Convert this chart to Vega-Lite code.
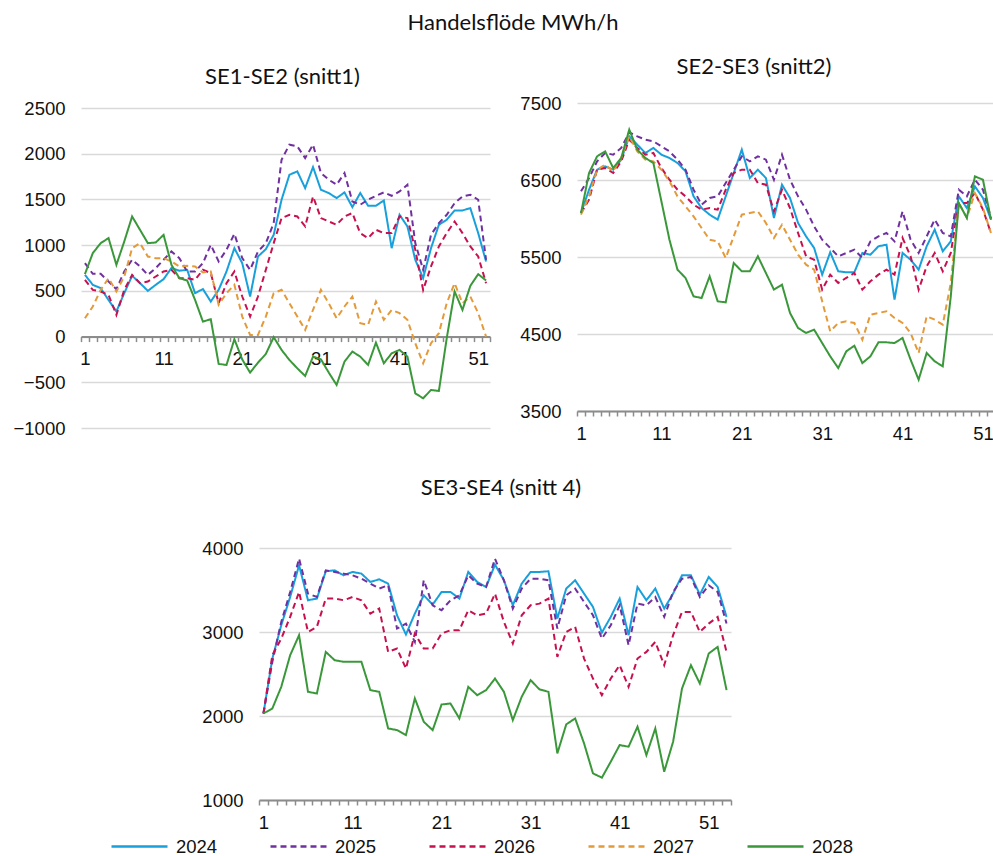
{
"$schema": "https://vega.github.io/schema/vega-lite/v6.json",
"background": "white",
"padding": {"left": 13, "top": 12, "right": 0, "bottom": 0},
"title": {"text": "Handelsflöde MWh/h", "font": "Lato", "fontSize": 22, "fontWeight": "normal", "color": "#111", "anchor": "middle", "offset": 21, "dx": 7},
"config": {
  "view": {"stroke": null},
  "title": {"font": "Lato", "fontSize": 22, "fontWeight": "normal", "color": "#111"},
  "axis": {"labelFont": "Liberation Sans", "labelFontSize": 18.5, "labelColor": "#111", "title": null, "labelFlush": false, "labelOverlap": false},
  "axisY": {"domain": false, "ticks": false, "grid": true, "gridColor": "#D9D9D9", "gridWidth": 1.5, "labelPadding": 16, "format": "d"},
  "axisX": {"grid": false, "domainColor": "#8C8C8C", "domainWidth": 2, "tickColor": "#8C8C8C", "tickWidth": 1.5, "tickSize": 5, "labelPadding": 8,
            "labelExpr": "indexof([1,11,21,31,41,51], datum.value + 0.5) >= 0 ? format(datum.value + 0.5, 'd') : ''"},
  "legend": {"orient": "none", "legendX": 29, "legendY": 714, "direction": "horizontal", "columns": 5, "title": null, "symbolType": "stroke", "symbolSize": 3136, "symbolStrokeWidth": 2.5, "labelFont": "Liberation Sans", "labelFontSize": 18.5, "labelColor": "#111", "labelOffset": 7, "columnPadding": 47}
},
"datasets": {
"p1": [
{"w":1,"s":"2024","v":675},{"w":2,"s":"2024","v":566},{"w":3,"s":"2024","v":530},{"w":4,"s":"2024","v":400},{"w":5,"s":"2024","v":275},{"w":6,"s":"2024","v":475},{"w":7,"s":"2024","v":665},{"w":8,"s":"2024","v":585},{"w":9,"s":"2024","v":500},{"w":10,"s":"2024","v":566},
{"w":11,"s":"2024","v":628},{"w":12,"s":"2024","v":750},{"w":13,"s":"2024","v":720},{"w":14,"s":"2024","v":730},{"w":15,"s":"2024","v":475},{"w":16,"s":"2024","v":520},{"w":17,"s":"2024","v":383},{"w":18,"s":"2024","v":511},{"w":19,"s":"2024","v":712},{"w":20,"s":"2024","v":967},
{"w":21,"s":"2024","v":803},{"w":22,"s":"2024","v":438},{"w":23,"s":"2024","v":876},{"w":24,"s":"2024","v":956},{"w":25,"s":"2024","v":1113},{"w":26,"s":"2024","v":1497},{"w":27,"s":"2024","v":1770},{"w":28,"s":"2024","v":1807},{"w":29,"s":"2024","v":1624},{"w":30,"s":"2024","v":1854},
{"w":31,"s":"2024","v":1606},{"w":32,"s":"2024","v":1570},{"w":33,"s":"2024","v":1515},{"w":34,"s":"2024","v":1577},{"w":35,"s":"2024","v":1416},{"w":36,"s":"2024","v":1570},{"w":37,"s":"2024","v":1431},{"w":38,"s":"2024","v":1431},{"w":39,"s":"2024","v":1489},{"w":40,"s":"2024","v":967},
{"w":41,"s":"2024","v":1332},{"w":42,"s":"2024","v":1205},{"w":43,"s":"2024","v":840},{"w":44,"s":"2024","v":639},{"w":45,"s":"2024","v":967},{"w":46,"s":"2024","v":1223},{"w":47,"s":"2024","v":1278},{"w":48,"s":"2024","v":1380},{"w":49,"s":"2024","v":1380},{"w":50,"s":"2024","v":1405},
{"w":51,"s":"2024","v":1132},{"w":52,"s":"2024","v":821},
{"w":1,"s":"2025","v":803},{"w":2,"s":"2025","v":686},{"w":3,"s":"2025","v":686},{"w":4,"s":"2025","v":602},{"w":5,"s":"2025","v":518},{"w":6,"s":"2025","v":712},{"w":7,"s":"2025","v":840},{"w":8,"s":"2025","v":767},{"w":9,"s":"2025","v":675},{"w":10,"s":"2025","v":748},
{"w":11,"s":"2025","v":840},{"w":12,"s":"2025","v":931},{"w":13,"s":"2025","v":858},{"w":14,"s":"2025","v":712},{"w":15,"s":"2025","v":712},{"w":16,"s":"2025","v":803},{"w":17,"s":"2025","v":1004},{"w":18,"s":"2025","v":821},{"w":19,"s":"2025","v":949},{"w":20,"s":"2025","v":1124},
{"w":21,"s":"2025","v":858},{"w":22,"s":"2025","v":730},{"w":23,"s":"2025","v":931},{"w":24,"s":"2025","v":1022},{"w":25,"s":"2025","v":1241},{"w":26,"s":"2025","v":1935},{"w":27,"s":"2025","v":2099},{"w":28,"s":"2025","v":2081},{"w":29,"s":"2025","v":1953},{"w":30,"s":"2025","v":2099},
{"w":31,"s":"2025","v":1789},{"w":32,"s":"2025","v":1716},{"w":33,"s":"2025","v":1661},{"w":34,"s":"2025","v":1789},{"w":35,"s":"2025","v":1478},{"w":36,"s":"2025","v":1442},{"w":37,"s":"2025","v":1497},{"w":38,"s":"2025","v":1540},{"w":39,"s":"2025","v":1577},{"w":40,"s":"2025","v":1540},
{"w":41,"s":"2025","v":1588},{"w":42,"s":"2025","v":1661},{"w":43,"s":"2025","v":1022},{"w":44,"s":"2025","v":730},{"w":45,"s":"2025","v":1113},{"w":46,"s":"2025","v":1241},{"w":47,"s":"2025","v":1332},{"w":48,"s":"2025","v":1460},{"w":49,"s":"2025","v":1533},{"w":50,"s":"2025","v":1551},
{"w":51,"s":"2025","v":1497},{"w":52,"s":"2025","v":840},
{"w":1,"s":"2026","v":620},{"w":2,"s":"2026","v":511},{"w":3,"s":"2026","v":493},{"w":4,"s":"2026","v":456},{"w":5,"s":"2026","v":237},{"w":6,"s":"2026","v":511},{"w":7,"s":"2026","v":675},{"w":8,"s":"2026","v":584},{"w":9,"s":"2026","v":602},{"w":10,"s":"2026","v":657},
{"w":11,"s":"2026","v":712},{"w":12,"s":"2026","v":730},{"w":13,"s":"2026","v":639},{"w":14,"s":"2026","v":639},{"w":15,"s":"2026","v":620},{"w":16,"s":"2026","v":730},{"w":17,"s":"2026","v":694},{"w":18,"s":"2026","v":365},{"w":19,"s":"2026","v":584},{"w":20,"s":"2026","v":712},
{"w":21,"s":"2026","v":438},{"w":22,"s":"2026","v":219},{"w":23,"s":"2026","v":438},{"w":24,"s":"2026","v":730},{"w":25,"s":"2026","v":1022},{"w":26,"s":"2026","v":1296},{"w":27,"s":"2026","v":1332},{"w":28,"s":"2026","v":1314},{"w":29,"s":"2026","v":1205},{"w":30,"s":"2026","v":1533},
{"w":31,"s":"2026","v":1296},{"w":32,"s":"2026","v":1259},{"w":33,"s":"2026","v":1223},{"w":34,"s":"2026","v":1314},{"w":35,"s":"2026","v":1351},{"w":36,"s":"2026","v":1132},{"w":37,"s":"2026","v":1077},{"w":38,"s":"2026","v":1168},{"w":39,"s":"2026","v":1132},{"w":40,"s":"2026","v":1132},
{"w":41,"s":"2026","v":1314},{"w":42,"s":"2026","v":1296},{"w":43,"s":"2026","v":949},{"w":44,"s":"2026","v":511},{"w":45,"s":"2026","v":767},{"w":46,"s":"2026","v":986},{"w":47,"s":"2026","v":1132},{"w":48,"s":"2026","v":1259},{"w":49,"s":"2026","v":1132},{"w":50,"s":"2026","v":986},
{"w":51,"s":"2026","v":876},{"w":52,"s":"2026","v":584},
{"w":1,"s":"2027","v":200},{"w":2,"s":"2027","v":329},{"w":3,"s":"2027","v":511},{"w":4,"s":"2027","v":639},{"w":5,"s":"2027","v":493},{"w":6,"s":"2027","v":657},{"w":7,"s":"2027","v":967},{"w":8,"s":"2027","v":1022},{"w":9,"s":"2027","v":876},{"w":10,"s":"2027","v":858},
{"w":11,"s":"2027","v":858},{"w":12,"s":"2027","v":821},{"w":13,"s":"2027","v":767},{"w":14,"s":"2027","v":774},{"w":15,"s":"2027","v":767},{"w":16,"s":"2027","v":701},{"w":17,"s":"2027","v":712},{"w":18,"s":"2027","v":347},{"w":19,"s":"2027","v":475},{"w":20,"s":"2027","v":566},
{"w":21,"s":"2027","v":219},{"w":22,"s":"2027","v":18},{"w":23,"s":"2027","v":18},{"w":24,"s":"2027","v":219},{"w":25,"s":"2027","v":475},{"w":26,"s":"2027","v":511},{"w":27,"s":"2027","v":365},{"w":28,"s":"2027","v":219},{"w":29,"s":"2027","v":73},{"w":30,"s":"2027","v":292},
{"w":31,"s":"2027","v":511},{"w":32,"s":"2027","v":365},{"w":33,"s":"2027","v":200},{"w":34,"s":"2027","v":329},{"w":35,"s":"2027","v":438},{"w":36,"s":"2027","v":146},{"w":37,"s":"2027","v":128},{"w":38,"s":"2027","v":383},{"w":39,"s":"2027","v":183},{"w":40,"s":"2027","v":292},
{"w":41,"s":"2027","v":256},{"w":42,"s":"2027","v":183},{"w":43,"s":"2027","v":-73},{"w":44,"s":"2027","v":-292},{"w":45,"s":"2027","v":-73},{"w":46,"s":"2027","v":37},{"w":47,"s":"2027","v":365},{"w":48,"s":"2027","v":584},{"w":49,"s":"2027","v":365},{"w":50,"s":"2027","v":438},
{"w":51,"s":"2027","v":256},{"w":52,"s":"2027","v":0},
{"w":1,"s":"2028","v":683},{"w":2,"s":"2028","v":913},{"w":3,"s":"2028","v":1022},{"w":4,"s":"2028","v":1077},{"w":5,"s":"2028","v":785},{"w":6,"s":"2028","v":1040},{"w":7,"s":"2028","v":1314},{"w":8,"s":"2028","v":1168},{"w":9,"s":"2028","v":1022},{"w":10,"s":"2028","v":1029},
{"w":11,"s":"2028","v":1113},{"w":12,"s":"2028","v":785},{"w":13,"s":"2028","v":639},{"w":14,"s":"2028","v":613},{"w":15,"s":"2028","v":402},{"w":16,"s":"2028","v":164},{"w":17,"s":"2028","v":190},{"w":18,"s":"2028","v":-299},{"w":19,"s":"2028","v":-310},{"w":20,"s":"2028","v":-29},
{"w":21,"s":"2028","v":-250},{"w":22,"s":"2028","v":-394},{"w":23,"s":"2028","v":-285},{"w":24,"s":"2028","v":-190},{"w":25,"s":"2028","v":-7},{"w":26,"s":"2028","v":-146},{"w":27,"s":"2028","v":-256},{"w":28,"s":"2028","v":-347},{"w":29,"s":"2028","v":-431},{"w":30,"s":"2028","v":-219},
{"w":31,"s":"2028","v":-248},{"w":32,"s":"2028","v":-394},{"w":33,"s":"2028","v":-529},{"w":34,"s":"2028","v":-274},{"w":35,"s":"2028","v":-164},{"w":36,"s":"2028","v":-219},{"w":37,"s":"2028","v":-310},{"w":38,"s":"2028","v":-66},{"w":39,"s":"2028","v":-292},{"w":40,"s":"2028","v":-183},
{"w":41,"s":"2028","v":-146},{"w":42,"s":"2028","v":-219},{"w":43,"s":"2028","v":-621},{"w":44,"s":"2028","v":-675},{"w":45,"s":"2028","v":-584},{"w":46,"s":"2028","v":-595},{"w":47,"s":"2028","v":-18},{"w":48,"s":"2028","v":493},{"w":49,"s":"2028","v":292},{"w":50,"s":"2028","v":555},
{"w":51,"s":"2028","v":683},{"w":52,"s":"2028","v":613}
],
"p2": [
{"w":1,"s":"2024","v":6071},{"w":2,"s":"2024","v":6374},{"w":3,"s":"2024","v":6634},{"w":4,"s":"2024","v":6677},{"w":5,"s":"2024","v":6634},{"w":6,"s":"2024","v":6764},{"w":7,"s":"2024","v":7067},{"w":8,"s":"2024","v":6959},{"w":9,"s":"2024","v":6851},{"w":10,"s":"2024","v":6916},
{"w":11,"s":"2024","v":6829},{"w":12,"s":"2024","v":6786},{"w":13,"s":"2024","v":6721},{"w":14,"s":"2024","v":6613},{"w":15,"s":"2024","v":6288},{"w":16,"s":"2024","v":6136},{"w":17,"s":"2024","v":6050},{"w":18,"s":"2024","v":5985},{"w":19,"s":"2024","v":6288},{"w":20,"s":"2024","v":6591},
{"w":21,"s":"2024","v":6894},{"w":22,"s":"2024","v":6526},{"w":23,"s":"2024","v":6634},{"w":24,"s":"2024","v":6526},{"w":25,"s":"2024","v":6006},{"w":26,"s":"2024","v":6439},{"w":27,"s":"2024","v":6266},{"w":28,"s":"2024","v":5942},{"w":29,"s":"2024","v":5768},{"w":30,"s":"2024","v":5617},
{"w":31,"s":"2024","v":5271},{"w":32,"s":"2024","v":5561},{"w":33,"s":"2024","v":5314},{"w":34,"s":"2024","v":5301},{"w":35,"s":"2024","v":5301},{"w":36,"s":"2024","v":5552},{"w":37,"s":"2024","v":5530},{"w":38,"s":"2024","v":5639},{"w":39,"s":"2024","v":5660},{"w":40,"s":"2024","v":4946},
{"w":41,"s":"2024","v":5552},{"w":42,"s":"2024","v":5465},{"w":43,"s":"2024","v":5336},{"w":44,"s":"2024","v":5639},{"w":45,"s":"2024","v":5855},{"w":46,"s":"2024","v":5574},{"w":47,"s":"2024","v":5703},{"w":48,"s":"2024","v":6288},{"w":49,"s":"2024","v":6136},{"w":50,"s":"2024","v":6418},
{"w":51,"s":"2024","v":6266},{"w":52,"s":"2024","v":5985},
{"w":1,"s":"2025","v":6353},{"w":2,"s":"2025","v":6526},{"w":3,"s":"2025","v":6742},{"w":4,"s":"2025","v":6851},{"w":5,"s":"2025","v":6829},{"w":6,"s":"2025","v":6916},{"w":7,"s":"2025","v":7119},{"w":8,"s":"2025","v":7067},{"w":9,"s":"2025","v":7024},{"w":10,"s":"2025","v":7002},
{"w":11,"s":"2025","v":6937},{"w":12,"s":"2025","v":6872},{"w":13,"s":"2025","v":6764},{"w":14,"s":"2025","v":6634},{"w":15,"s":"2025","v":6374},{"w":16,"s":"2025","v":6180},{"w":17,"s":"2025","v":6266},{"w":18,"s":"2025","v":6288},{"w":19,"s":"2025","v":6461},{"w":20,"s":"2025","v":6634},
{"w":21,"s":"2025","v":6807},{"w":22,"s":"2025","v":6742},{"w":23,"s":"2025","v":6807},{"w":24,"s":"2025","v":6764},{"w":25,"s":"2025","v":6504},{"w":26,"s":"2025","v":6829},{"w":27,"s":"2025","v":6504},{"w":28,"s":"2025","v":6288},{"w":29,"s":"2025","v":6115},{"w":30,"s":"2025","v":5898},
{"w":31,"s":"2025","v":5725},{"w":32,"s":"2025","v":5617},{"w":33,"s":"2025","v":5509},{"w":34,"s":"2025","v":5552},{"w":35,"s":"2025","v":5595},{"w":36,"s":"2025","v":5487},{"w":37,"s":"2025","v":5703},{"w":38,"s":"2025","v":5768},{"w":39,"s":"2025","v":5812},{"w":40,"s":"2025","v":5703},
{"w":41,"s":"2025","v":6093},{"w":42,"s":"2025","v":5725},{"w":43,"s":"2025","v":5552},{"w":44,"s":"2025","v":5768},{"w":45,"s":"2025","v":5985},{"w":46,"s":"2025","v":5812},{"w":47,"s":"2025","v":5768},{"w":48,"s":"2025","v":6374},{"w":49,"s":"2025","v":6288},{"w":50,"s":"2025","v":6504},
{"w":51,"s":"2025","v":6374},{"w":52,"s":"2025","v":6006},
{"w":1,"s":"2026","v":6071},{"w":2,"s":"2026","v":6245},{"w":3,"s":"2026","v":6634},{"w":4,"s":"2026","v":6656},{"w":5,"s":"2026","v":6591},{"w":6,"s":"2026","v":6742},{"w":7,"s":"2026","v":7024},{"w":8,"s":"2026","v":6916},{"w":9,"s":"2026","v":6829},{"w":10,"s":"2026","v":6851},
{"w":11,"s":"2026","v":6656},{"w":12,"s":"2026","v":6504},{"w":13,"s":"2026","v":6374},{"w":14,"s":"2026","v":6288},{"w":15,"s":"2026","v":6180},{"w":16,"s":"2026","v":6115},{"w":17,"s":"2026","v":6136},{"w":18,"s":"2026","v":6115},{"w":19,"s":"2026","v":6374},{"w":20,"s":"2026","v":6591},
{"w":21,"s":"2026","v":6634},{"w":22,"s":"2026","v":6634},{"w":23,"s":"2026","v":6461},{"w":24,"s":"2026","v":6439},{"w":25,"s":"2026","v":6093},{"w":26,"s":"2026","v":6374},{"w":27,"s":"2026","v":6136},{"w":28,"s":"2026","v":5812},{"w":29,"s":"2026","v":5509},{"w":30,"s":"2026","v":5465},
{"w":31,"s":"2026","v":5076},{"w":32,"s":"2026","v":5271},{"w":33,"s":"2026","v":5163},{"w":34,"s":"2026","v":5228},{"w":35,"s":"2026","v":5292},{"w":36,"s":"2026","v":5076},{"w":37,"s":"2026","v":5184},{"w":38,"s":"2026","v":5271},{"w":39,"s":"2026","v":5336},{"w":40,"s":"2026","v":5271},
{"w":41,"s":"2026","v":5747},{"w":42,"s":"2026","v":5509},{"w":43,"s":"2026","v":5076},{"w":44,"s":"2026","v":5379},{"w":45,"s":"2026","v":5552},{"w":46,"s":"2026","v":5314},{"w":47,"s":"2026","v":5552},{"w":48,"s":"2026","v":6201},{"w":49,"s":"2026","v":6201},{"w":50,"s":"2026","v":6331},
{"w":51,"s":"2026","v":6115},{"w":52,"s":"2026","v":5812},
{"w":1,"s":"2027","v":6050},{"w":2,"s":"2027","v":6288},{"w":3,"s":"2027","v":6634},{"w":4,"s":"2027","v":6699},{"w":5,"s":"2027","v":6613},{"w":6,"s":"2027","v":6786},{"w":7,"s":"2027","v":7067},{"w":8,"s":"2027","v":6872},{"w":9,"s":"2027","v":6764},{"w":10,"s":"2027","v":6742},
{"w":11,"s":"2027","v":6634},{"w":12,"s":"2027","v":6483},{"w":13,"s":"2027","v":6288},{"w":14,"s":"2027","v":6158},{"w":15,"s":"2027","v":6028},{"w":16,"s":"2027","v":5877},{"w":17,"s":"2027","v":5725},{"w":18,"s":"2027","v":5703},{"w":19,"s":"2027","v":5487},{"w":20,"s":"2027","v":5768},
{"w":21,"s":"2027","v":6050},{"w":22,"s":"2027","v":6071},{"w":23,"s":"2027","v":6093},{"w":24,"s":"2027","v":5942},{"w":25,"s":"2027","v":5747},{"w":26,"s":"2027","v":5920},{"w":27,"s":"2027","v":5725},{"w":28,"s":"2027","v":5530},{"w":29,"s":"2027","v":5400},{"w":30,"s":"2027","v":5336},
{"w":31,"s":"2027","v":4924},{"w":32,"s":"2027","v":4535},{"w":33,"s":"2027","v":4643},{"w":34,"s":"2027","v":4665},{"w":35,"s":"2027","v":4643},{"w":36,"s":"2027","v":4426},{"w":37,"s":"2027","v":4751},{"w":38,"s":"2027","v":4773},{"w":39,"s":"2027","v":4795},{"w":40,"s":"2027","v":4708},
{"w":41,"s":"2027","v":4643},{"w":42,"s":"2027","v":4513},{"w":43,"s":"2027","v":4253},{"w":44,"s":"2027","v":4730},{"w":45,"s":"2027","v":4686},{"w":46,"s":"2027","v":4621},{"w":47,"s":"2027","v":5162},{"w":48,"s":"2027","v":6201},{"w":49,"s":"2027","v":6006},{"w":50,"s":"2027","v":6331},
{"w":51,"s":"2027","v":6136},{"w":52,"s":"2027","v":5812},
{"w":1,"s":"2028","v":6071},{"w":2,"s":"2028","v":6591},{"w":3,"s":"2028","v":6807},{"w":4,"s":"2028","v":6872},{"w":5,"s":"2028","v":6656},{"w":6,"s":"2028","v":6786},{"w":7,"s":"2028","v":7154},{"w":8,"s":"2028","v":6894},{"w":9,"s":"2028","v":6786},{"w":10,"s":"2028","v":6721},
{"w":11,"s":"2028","v":6223},{"w":12,"s":"2028","v":5725},{"w":13,"s":"2028","v":5336},{"w":14,"s":"2028","v":5228},{"w":15,"s":"2028","v":4989},{"w":16,"s":"2028","v":4967},{"w":17,"s":"2028","v":5249},{"w":18,"s":"2028","v":4924},{"w":19,"s":"2028","v":4911},{"w":20,"s":"2028","v":5422},
{"w":21,"s":"2028","v":5314},{"w":22,"s":"2028","v":5314},{"w":23,"s":"2028","v":5509},{"w":24,"s":"2028","v":5292},{"w":25,"s":"2028","v":5076},{"w":26,"s":"2028","v":5141},{"w":27,"s":"2028","v":4773},{"w":28,"s":"2028","v":4578},{"w":29,"s":"2028","v":4513},{"w":30,"s":"2028","v":4556},
{"w":31,"s":"2028","v":4383},{"w":32,"s":"2028","v":4210},{"w":33,"s":"2028","v":4058},{"w":34,"s":"2028","v":4275},{"w":35,"s":"2028","v":4348},{"w":36,"s":"2028","v":4123},{"w":37,"s":"2028","v":4210},{"w":38,"s":"2028","v":4392},{"w":39,"s":"2028","v":4392},{"w":40,"s":"2028","v":4383},
{"w":41,"s":"2028","v":4448},{"w":42,"s":"2028","v":4167},{"w":43,"s":"2028","v":3907},{"w":44,"s":"2028","v":4253},{"w":45,"s":"2028","v":4145},{"w":46,"s":"2028","v":4080},{"w":47,"s":"2028","v":4989},{"w":48,"s":"2028","v":6201},{"w":49,"s":"2028","v":6006},{"w":50,"s":"2028","v":6547},
{"w":51,"s":"2028","v":6504},{"w":52,"s":"2028","v":5985}
],
"p3": [
{"w":1,"s":"2024","v":2030},{"w":2,"s":"2024","v":2684},{"w":3,"s":"2024","v":3081},{"w":4,"s":"2024","v":3417},{"w":5,"s":"2024","v":3794},{"w":6,"s":"2024","v":3378},{"w":7,"s":"2024","v":3398},{"w":8,"s":"2024","v":3723},{"w":9,"s":"2024","v":3734},{"w":10,"s":"2024","v":3675},
{"w":11,"s":"2024","v":3715},{"w":12,"s":"2024","v":3695},{"w":13,"s":"2024","v":3596},{"w":14,"s":"2024","v":3627},{"w":15,"s":"2024","v":3576},{"w":16,"s":"2024","v":3199},{"w":17,"s":"2024","v":2970},{"w":18,"s":"2024","v":3219},{"w":19,"s":"2024","v":3437},{"w":20,"s":"2024","v":3326},
{"w":21,"s":"2024","v":3477},{"w":22,"s":"2024","v":3477},{"w":23,"s":"2024","v":3398},{"w":24,"s":"2024","v":3715},{"w":25,"s":"2024","v":3596},{"w":26,"s":"2024","v":3536},{"w":27,"s":"2024","v":3802},{"w":28,"s":"2024","v":3616},{"w":29,"s":"2024","v":3318},{"w":30,"s":"2024","v":3576},
{"w":31,"s":"2024","v":3715},{"w":32,"s":"2024","v":3715},{"w":33,"s":"2024","v":3723},{"w":34,"s":"2024","v":3160},{"w":35,"s":"2024","v":3517},{"w":36,"s":"2024","v":3616},{"w":37,"s":"2024","v":3457},{"w":38,"s":"2024","v":3299},{"w":39,"s":"2024","v":2993},{"w":40,"s":"2024","v":3180},
{"w":41,"s":"2024","v":3398},{"w":42,"s":"2024","v":2962},{"w":43,"s":"2024","v":3536},{"w":44,"s":"2024","v":3378},{"w":45,"s":"2024","v":3517},{"w":46,"s":"2024","v":3279},{"w":47,"s":"2024","v":3457},{"w":48,"s":"2024","v":3675},{"w":49,"s":"2024","v":3675},{"w":50,"s":"2024","v":3445},
{"w":51,"s":"2024","v":3655},{"w":52,"s":"2024","v":3536},{"w":53,"s":"2024","v":3180},
{"w":1,"s":"2025","v":2030},{"w":2,"s":"2025","v":2645},{"w":3,"s":"2025","v":3120},{"w":4,"s":"2025","v":3477},{"w":5,"s":"2025","v":3873},{"w":6,"s":"2025","v":3457},{"w":7,"s":"2025","v":3417},{"w":8,"s":"2025","v":3734},{"w":9,"s":"2025","v":3715},{"w":10,"s":"2025","v":3695},
{"w":11,"s":"2025","v":3675},{"w":12,"s":"2025","v":3635},{"w":13,"s":"2025","v":3576},{"w":14,"s":"2025","v":3517},{"w":15,"s":"2025","v":3556},{"w":16,"s":"2025","v":3041},{"w":17,"s":"2025","v":3100},{"w":18,"s":"2025","v":2882},{"w":19,"s":"2025","v":3616},{"w":20,"s":"2025","v":3318},
{"w":21,"s":"2025","v":3259},{"w":22,"s":"2025","v":3378},{"w":23,"s":"2025","v":3437},{"w":24,"s":"2025","v":3675},{"w":25,"s":"2025","v":3576},{"w":26,"s":"2025","v":3536},{"w":27,"s":"2025","v":3873},{"w":28,"s":"2025","v":3616},{"w":29,"s":"2025","v":3279},{"w":30,"s":"2025","v":3517},
{"w":31,"s":"2025","v":3635},{"w":32,"s":"2025","v":3635},{"w":33,"s":"2025","v":3616},{"w":34,"s":"2025","v":3041},{"w":35,"s":"2025","v":3437},{"w":36,"s":"2025","v":3517},{"w":37,"s":"2025","v":3358},{"w":38,"s":"2025","v":3199},{"w":39,"s":"2025","v":2922},{"w":40,"s":"2025","v":3081},
{"w":41,"s":"2025","v":3318},{"w":42,"s":"2025","v":2843},{"w":43,"s":"2025","v":3338},{"w":44,"s":"2025","v":3318},{"w":45,"s":"2025","v":3417},{"w":46,"s":"2025","v":3180},{"w":47,"s":"2025","v":3477},{"w":48,"s":"2025","v":3635},{"w":49,"s":"2025","v":3655},{"w":50,"s":"2025","v":3417},
{"w":51,"s":"2025","v":3556},{"w":52,"s":"2025","v":3477},{"w":53,"s":"2025","v":3100},
{"w":1,"s":"2026","v":2030},{"w":2,"s":"2026","v":2724},{"w":3,"s":"2026","v":2922},{"w":4,"s":"2026","v":3180},{"w":5,"s":"2026","v":3477},{"w":6,"s":"2026","v":3001},{"w":7,"s":"2026","v":3061},{"w":8,"s":"2026","v":3398},{"w":9,"s":"2026","v":3398},{"w":10,"s":"2026","v":3378},
{"w":11,"s":"2026","v":3417},{"w":12,"s":"2026","v":3378},{"w":13,"s":"2026","v":3219},{"w":14,"s":"2026","v":3279},{"w":15,"s":"2026","v":2763},{"w":16,"s":"2026","v":2803},{"w":17,"s":"2026","v":2565},{"w":18,"s":"2026","v":2982},{"w":19,"s":"2026","v":2803},{"w":20,"s":"2026","v":2803},
{"w":21,"s":"2026","v":2982},{"w":22,"s":"2026","v":3021},{"w":23,"s":"2026","v":3021},{"w":24,"s":"2026","v":3259},{"w":25,"s":"2026","v":3199},{"w":26,"s":"2026","v":3219},{"w":27,"s":"2026","v":3457},{"w":28,"s":"2026","v":3120},{"w":29,"s":"2026","v":2863},{"w":30,"s":"2026","v":3199},
{"w":31,"s":"2026","v":3318},{"w":32,"s":"2026","v":3338},{"w":33,"s":"2026","v":3398},{"w":34,"s":"2026","v":2704},{"w":35,"s":"2026","v":3001},{"w":36,"s":"2026","v":3061},{"w":37,"s":"2026","v":2684},{"w":38,"s":"2026","v":2446},{"w":39,"s":"2026","v":2248},{"w":40,"s":"2026","v":2446},
{"w":41,"s":"2026","v":2605},{"w":42,"s":"2026","v":2347},{"w":43,"s":"2026","v":2684},{"w":44,"s":"2026","v":2763},{"w":45,"s":"2026","v":2882},{"w":46,"s":"2026","v":2605},{"w":47,"s":"2026","v":2962},{"w":48,"s":"2026","v":3239},{"w":49,"s":"2026","v":3239},{"w":50,"s":"2026","v":3001},
{"w":51,"s":"2026","v":3100},{"w":52,"s":"2026","v":3180},{"w":53,"s":"2026","v":2763},
{"w":1,"s":"2028","v":2030},{"w":2,"s":"2028","v":2090},{"w":3,"s":"2028","v":2347},{"w":4,"s":"2028","v":2724},{"w":5,"s":"2028","v":2962},{"w":6,"s":"2028","v":2288},{"w":7,"s":"2028","v":2268},{"w":8,"s":"2028","v":2763},{"w":9,"s":"2028","v":2664},{"w":10,"s":"2028","v":2645},
{"w":11,"s":"2028","v":2645},{"w":12,"s":"2028","v":2645},{"w":13,"s":"2028","v":2308},{"w":14,"s":"2028","v":2288},{"w":15,"s":"2028","v":1852},{"w":16,"s":"2028","v":1832},{"w":17,"s":"2028","v":1773},{"w":18,"s":"2028","v":2209},{"w":19,"s":"2028","v":1931},{"w":20,"s":"2028","v":1832},
{"w":21,"s":"2028","v":2137},{"w":22,"s":"2028","v":2149},{"w":23,"s":"2028","v":1971},{"w":24,"s":"2028","v":2347},{"w":25,"s":"2028","v":2248},{"w":26,"s":"2028","v":2308},{"w":27,"s":"2028","v":2446},{"w":28,"s":"2028","v":2288},{"w":29,"s":"2028","v":1951},{"w":30,"s":"2028","v":2229},
{"w":31,"s":"2028","v":2427},{"w":32,"s":"2028","v":2316},{"w":33,"s":"2028","v":2288},{"w":34,"s":"2028","v":1555},{"w":35,"s":"2028","v":1900},{"w":36,"s":"2028","v":1971},{"w":37,"s":"2028","v":1674},{"w":38,"s":"2028","v":1317},{"w":39,"s":"2028","v":1266},{"w":40,"s":"2028","v":1456},
{"w":41,"s":"2028","v":1654},{"w":42,"s":"2028","v":1634},{"w":43,"s":"2028","v":1872},{"w":44,"s":"2028","v":1535},{"w":45,"s":"2028","v":1852},{"w":46,"s":"2028","v":1337},{"w":47,"s":"2028","v":1694},{"w":48,"s":"2028","v":2328},{"w":49,"s":"2028","v":2605},{"w":50,"s":"2028","v":2387},
{"w":51,"s":"2028","v":2744},{"w":52,"s":"2028","v":2823},{"w":53,"s":"2028","v":2308}
]
},
"bounds": "full",
"spacing": 34,
"vconcat": [
{
  "bounds": "flush",
  "spacing": 87,
  "hconcat": [
  {
    "title": {"text": "SE1-SE2 (snitt1)", "dx": -3, "offset": 10},
    "width": 409, "height": 325,
    "data": {"name": "p1"},
    "mark": {"type": "line", "strokeWidth": 2},
    "encoding": {
      "x": {"field": "w", "type": "quantitative", "scale": {"domain": [0.5, 52.5], "nice": false, "zero": false},
            "axis": {"offset": -91.4, "labelOffset": 3.93, "values": [0.5,1.5,2.5,3.5,4.5,5.5,6.5,7.5,8.5,9.5,10.5,11.5,12.5,13.5,14.5,15.5,16.5,17.5,18.5,19.5,20.5,21.5,22.5,23.5,24.5,25.5,26.5,27.5,28.5,29.5,30.5,31.5,32.5,33.5,34.5,35.5,36.5,37.5,38.5,39.5,40.5,41.5,42.5,43.5,44.5,45.5,46.5,47.5,48.5,49.5,50.5,51.5,52.5]}},
      "y": {"field": "v", "type": "quantitative", "scale": {"domain": [-1000, 2555], "nice": false, "zero": false},
            "axis": {"values": [-1000,-500,0,500,1000,1500,2000,2500]}},
      "color": {"field": "s", "type": "nominal", "scale": {"domain": ["2024","2025","2026","2027","2028"], "range": ["#18A0DC","#7030A0","#C8104E","#E49A38","#3A983A"]}},
      "strokeDash": {"field": "s", "type": "nominal", "scale": {"domain": ["2024","2025","2026","2027","2028"], "range": [[1,0],[6,4],[6,4],[6,4],[1,0]]}}
    }
  },
  {
    "title": {"text": "SE2-SE3 (snitt2)", "dx": -32, "offset": 15},
    "width": 418, "height": 308,
    "data": {"name": "p2"},
    "mark": {"type": "line", "strokeWidth": 2},
    "encoding": {
      "x": {"field": "w", "type": "quantitative", "scale": {"domain": [0.5, 52.5], "nice": false, "zero": false},
            "axis": {"labelOffset": 4.02, "values": [0.5,1.5,2.5,3.5,4.5,5.5,6.5,7.5,8.5,9.5,10.5,11.5,12.5,13.5,14.5,15.5,16.5,17.5,18.5,19.5,20.5,21.5,22.5,23.5,24.5,25.5,26.5,27.5,28.5,29.5,30.5,31.5,32.5,33.5,34.5,35.5,36.5,37.5,38.5,39.5,40.5,41.5,42.5,43.5,44.5,45.5,46.5,47.5,48.5,49.5,50.5,51.5,52.5]}},
      "y": {"field": "v", "type": "quantitative", "scale": {"domain": [3500, 7500], "nice": false, "zero": false},
            "axis": {"values": [3500,4500,5500,6500,7500]}},
      "color": {"field": "s", "type": "nominal", "scale": {"domain": ["2024","2025","2026","2027","2028"], "range": ["#18A0DC","#7030A0","#C8104E","#E49A38","#3A983A"]}},
      "strokeDash": {"field": "s", "type": "nominal", "scale": {"domain": ["2024","2025","2026","2027","2028"], "range": [[1,0],[6,4],[6,4],[6,4],[1,0]]}}
    }
  }
  ]
},
{
  "bounds": "flush",
  "spacing": 83,
  "hconcat": [
  {
    "width": 95, "height": 10,
    "data": {"values": []},
    "mark": "point"
  },
  {
    "title": {"text": "SE3-SE4 (snitt 4)", "dx": 6, "offset": 39},
    "width": 472, "height": 252,
    "data": {"name": "p3"},
    "mark": {"type": "line", "strokeWidth": 2},
    "encoding": {
      "x": {"field": "w", "type": "quantitative", "scale": {"domain": [0.5, 53.5], "nice": false, "zero": false},
            "axis": {"labelOffset": 4.45, "values": [0.5,1.5,2.5,3.5,4.5,5.5,6.5,7.5,8.5,9.5,10.5,11.5,12.5,13.5,14.5,15.5,16.5,17.5,18.5,19.5,20.5,21.5,22.5,23.5,24.5,25.5,26.5,27.5,28.5,29.5,30.5,31.5,32.5,33.5,34.5,35.5,36.5,37.5,38.5,39.5,40.5,41.5,42.5,43.5,44.5,45.5,46.5,47.5,48.5,49.5,50.5,51.5,52.5,53.5]}},
      "y": {"field": "v", "type": "quantitative", "scale": {"domain": [1000, 4000], "nice": false, "zero": false},
            "axis": {"values": [1000,2000,3000,4000]}},
      "color": {"field": "s", "type": "nominal", "scale": {"domain": ["2024","2025","2026","2027","2028"], "range": ["#18A0DC","#7030A0","#C8104E","#E49A38","#3A983A"]}},
      "strokeDash": {"field": "s", "type": "nominal", "scale": {"domain": ["2024","2025","2026","2027","2028"], "range": [[1,0],[6,4],[6,4],[6,4],[1,0]]}}
    }
  }
  ]
}
]
}
